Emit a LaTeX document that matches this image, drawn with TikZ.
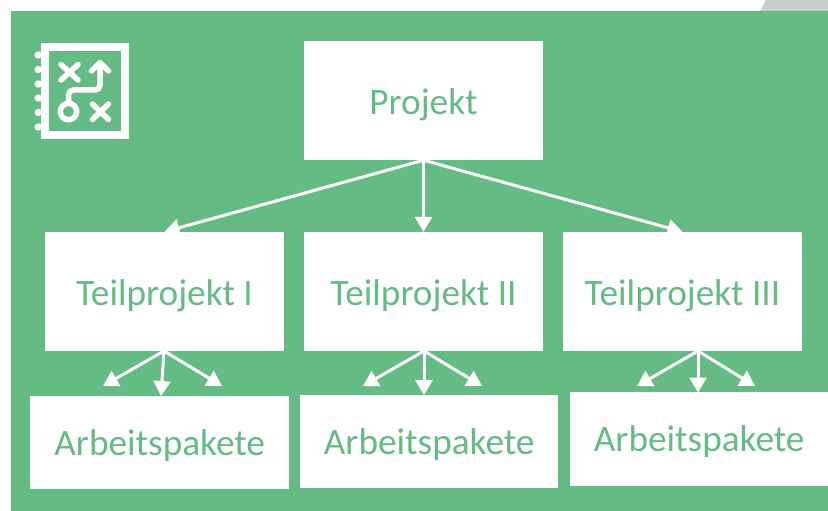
\documentclass[tikz,border=0pt]{standalone}
\usepackage{fontspec}
\setmainfont{Carlito}
\usetikzlibrary{arrows.meta}
\definecolor{plangreen}{RGB}{100,187,132}
\definecolor{cornergrey}{RGB}{204,204,204}
\begin{document}
\begin{tikzpicture}
[x=1pt,y=-1pt,
 TopBox/.style={rectangle,
    fill=white, text=plangreen, inner sep=0pt,
    minimum width=239pt, minimum height=119pt,
    text height=27pt, text depth=0pt,
    font=\fontsize{37.3}{40}\selectfont},
 WorkBox/.style={rectangle,
    fill=white, text=plangreen, inner sep=0pt,
    minimum width=258.5pt, minimum height=93.5pt,
    text height=25pt, text depth=0pt,
    font=\fontsize{37.3}{40}\selectfont},
 TreeArrow/.style={white, line width=3pt,
    -{Triangle[length=15pt,width=17pt]}},
 IconLine/.style={white, line width=5.5pt, line cap=round}]
\useasboundingbox (0,0) rectangle (828,511);
\fill[cornergrey] (760,11) -- (766,0) -- (828,0) -- (828,11) -- cycle;
\fill[plangreen] (11,11) rectangle (828,511);

% icon
\draw[white, line width=8.3pt] (44.9,46.9) rectangle (124.9,135.1);
\foreach \y in {55,69.5,84,98,112.5,127}
    \fill[white] (38.2,\y) circle (3.7pt);
\draw[IconLine] (61,64.5) -- (78,80) (78,64.5) -- (61,80);
\draw[IconLine] (92.5,104) -- (108.5,119.5) (108.5,104) -- (92.5,119.5);
\draw[white, line width=5.5pt] (68.5,111.5) circle (8.2pt);
\draw[IconLine, line cap=butt, rounded corners=5pt] (68.5,103) -- (68.5,90) -- (100,90) -- (100,63);
\draw[IconLine, line join=round] (91.5,71) -- (100,62.5) -- (108.5,71);

% boxes
\node[TopBox] (projekt) at (423.5,100.5) {Projekt};
\foreach \i/\x/\name in {1/164.5/Teilprojekt I,2/423.5/Teilprojekt II,3/682.5/Teilprojekt III}
    \node[TopBox] (teil\i) at (\x,291.5) {\name};
\node[WorkBox] (paket1) at (159.7,442.5) {Arbeitspakete};
\node[WorkBox] (paket2) at (429.2,441.7) {Arbeitspakete};
\node[WorkBox] (paket3) at (699.2,439) {Arbeitspakete};

% arrows
\foreach \i in {1,2,3}
    \draw[TreeArrow] (projekt.south) -- (teil\i.north);
\foreach \i/\sx/\lx/\mx/\rx/\my in {1/164/103/161/222/396,2/424/363/424/482/395,3/698/637/698/755/392.5}{
    \coordinate (start\i) at (\sx,351);
    \coordinate (left\i) at (\lx,386);
    \coordinate (mid\i) at (\mx,\my);
    \coordinate (right\i) at (\rx,386);
    \draw[TreeArrow] (start\i) -- (left\i);
    \draw[TreeArrow] (start\i) -- (mid\i);
    \draw[TreeArrow] (start\i) -- (right\i);
}
\end{tikzpicture}
\end{document}
